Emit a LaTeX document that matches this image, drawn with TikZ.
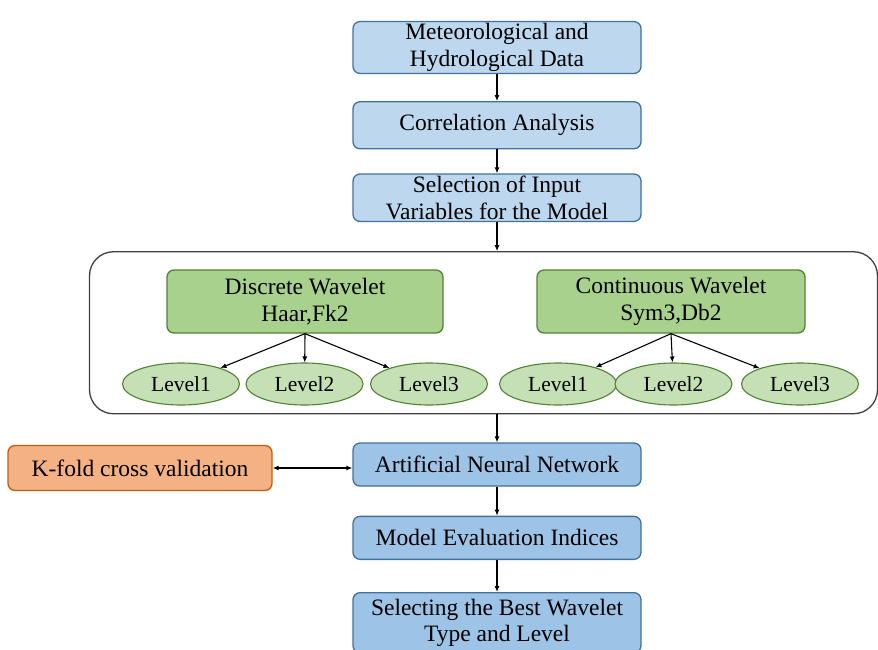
\documentclass[tikz,border=0pt]{standalone}
\usepackage{fontspec}
\setmainfont{Liberation Serif}
\usetikzlibrary{arrows.meta}
\usetikzlibrary{positioning, shapes.geometric}

\definecolor{paleblue}{HTML}{BDD7EE}
\definecolor{midblue}{HTML}{9DC3E6}
\definecolor{blueline}{HTML}{41719C}
\definecolor{leafgreen}{HTML}{A9D18E}
\definecolor{palegreen}{HTML}{C5E0B4}
\definecolor{greenline}{HTML}{538135}
\definecolor{peach}{HTML}{F4B183}
\definecolor{rustline}{HTML}{C55A11}
\definecolor{frameline}{HTML}{404040}

\tikzset{
    stage/.style={draw=blueline, line width=1.3pt, rounded corners=7pt, fill=paleblue,
        minimum width=288pt, align=center, inner sep=2pt,
        font=\fontsize{23.5}{26.5}\selectfont},
    wavebox/.style={stage, draw=greenline, fill=leafgreen, minimum height=63pt},
    level/.style={ellipse, draw=greenline, line width=1.1pt, fill=palegreen,
        minimum width=117pt, minimum height=42pt, inner sep=0pt,
        font=\fontsize{21.5}{24}\selectfont},
    flow/.style={-{Latex[length=6pt,width=5pt]}, line width=1.1pt},
}

\begin{document}
\begin{tikzpicture}[x=1pt, y=1pt]
    \useasboundingbox (0,0) rectangle (878,-649);

    % main column
    \node[stage, minimum height=51pt] (data) at (497,-47.5) {Meteorological and\\Hydrological Data};
    \node[stage, minimum height=47pt, below=27pt of data] (corr) {Correlation Analysis};
    \node[stage, minimum height=47pt, below=24pt of corr] (inputs) {Selection of Input\\Variables for the Model};

    % wavelet block
    \node[draw=frameline, line width=1.3pt, rounded corners=24pt, fill=white,
        minimum width=788pt, minimum height=162pt, below=29pt of inputs, xshift=-13.5pt] (wavelets) {};
    \node[wavebox, minimum width=276pt] (dwt) at (305,-301.5) {Discrete Wavelet\\Haar,Fk2};
    \node[wavebox, minimum width=268pt] (cwt) at (671,-301.5) {Continuous Wavelet\\Sym3,Db2};
    \foreach \i/\x in {1/181,2/304.5,3/429}
        \node[level] (dl\i) at (\x,-384) {Level\i};
    \foreach \i/\x in {1/558,2/673.5,3/800}
        \node[level] (cl\i) at (\x,-384) {Level\i};
    \foreach \i in {1,2,3} {
        \draw[flow] (dwt.south) -- (dl\i);
        \draw[flow] (cwt.south) -- (cl\i);
    }

    \node[stage, fill=midblue, minimum height=43pt, below=28pt of wavelets.south -| inputs] (ann) {Artificial Neural Network};
    \node[stage, fill=midblue, minimum height=43pt, below=29pt of ann] (evalidx) {Model Evaluation Indices};
    \node[stage, fill=midblue, minimum height=60pt, below=32pt of evalidx] (best) {Selecting the Best Wavelet\\Type and Level};
    \node[stage, draw=rustline, fill=peach, minimum width=264pt, minimum height=45pt] (kfold) at (140,-468) {K-fold cross validation};

    \draw[flow] (data) -- (corr);
    \draw[flow] (corr) -- (inputs);
    \draw[flow] (inputs) -- (inputs |- wavelets.north);
    \draw[flow] (wavelets.south -| ann) -- (ann);
    \draw[flow] (ann) -- (evalidx);
    \draw[flow] (evalidx) -- (best);
    \draw[{Latex[length=6pt,width=5pt]}-{Latex[length=6pt,width=5pt]}, line width=1.1pt] (kfold.east) -- (kfold.east -| ann.west);
\end{tikzpicture}
\end{document}
